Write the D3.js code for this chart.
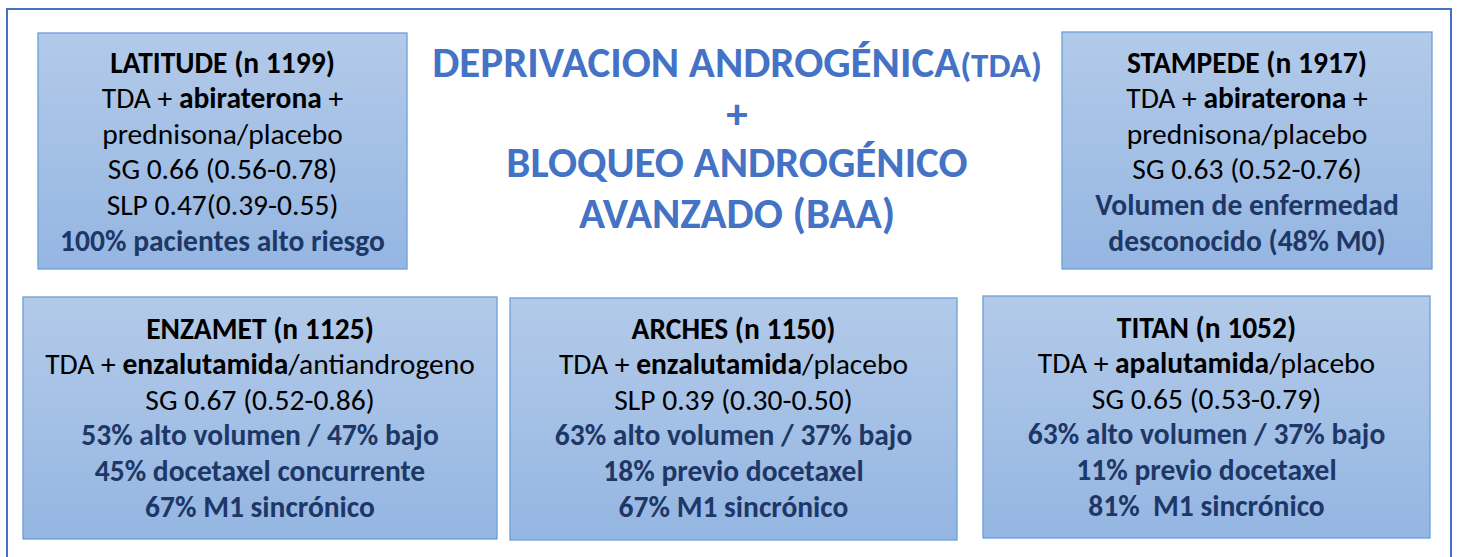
<!DOCTYPE html>
<html><head><meta charset="utf-8">
<script src="https://cdn.jsdelivr.net/npm/d3@7"></script>
<style>html,body{margin:0;padding:0;background:#fff;}svg{display:block;}</style>
</head><body>
<svg id="c" width="1459" height="557"></svg>
<script>
// ---- data ----
const titleLines = [
  [{t:"DEPRIVACION ANDROGÉNICA"},{t:"(TDA)", small:true}],
  [{t:"+"}],
  [{t:"BLOQUEO ANDROGÉNICO"}],
  [{t:"AVANZADO (BAA)"}]
];
const studies = ["LATITUDE","STAMPEDE","ENZAMET","ARCHES","TITAN"];
const sampleSizes = ["1199","1917","1125","1150","1052"];
const drugs = ["abiraterona","abiraterona","enzalutamida","enzalutamida","apalutamida"];
const comparators = [" +|prednisona/placebo"," +|prednisona/placebo","/antiandrogeno","/placebo","/placebo"];
const outcomes = [
  ["SG 0.66 (0.56-0.78)","SLP 0.47(0.39-0.55)"],
  ["SG 0.63 (0.52-0.76)"],
  ["SG 0.67 (0.52-0.86)"],
  ["SLP 0.39 (0.30-0.50)"],
  ["SG 0.65 (0.53-0.79)"]
];
const features = [
  ["100% pacientes alto riesgo"],
  ["Volumen de enfermedad","desconocido (48% M0)"],
  ["53% alto volumen / 47% bajo","45% docetaxel concurrente","67% M1 sincrónico"],
  ["63% alto volumen / 37% bajo","18% previo docetaxel","67% M1 sincrónico"],
  ["63% alto volumen / 37% bajo","11% previo docetaxel","81%\u00a0 M1 sincrónico"]
];

// ---- layout ----
const boxes = [
  {x:38,  y:33,  w:369, h:236, top:62},
  {x:1062,y:32,  w:370, h:237, top:62},
  {x:23,  y:297, w:474, h:242, top:328},
  {x:510, y:298, w:447, h:242, top:328},
  {x:983, y:296, w:447, h:242, top:327}
];
const lineH = 35.6;
const FONT = "Carlito, Lato, 'Open Sans', sans-serif";
const FS = 29.5;
const navy = "#1e3766", blue = "#4472c4";

const svg = d3.select("#c");
const defs = svg.append("defs");
const g = defs.append("linearGradient").attr("id","bg").attr("x1",0).attr("y1",0).attr("x2",0).attr("y2",1);
g.append("stop").attr("offset","0%").attr("stop-color","#b3cae9");
g.append("stop").attr("offset","100%").attr("stop-color","#94b6e2");

svg.append("rect").attr("x",7).attr("y",9).attr("width",1444).attr("height",570)
  .attr("fill","none").attr("stroke",blue).attr("stroke-width",2);

const boxLines = studies.map((s,i)=>{
  const lines = [];
  lines.push([{t:`${s} (n ${sampleSizes[i]})`, b:true, c:"#000"}]);
  const comp = comparators[i].split("|");
  lines.push([{t:"TDA + ",c:"#000"},{t:drugs[i],b:true,c:"#000"},{t:comp[0],c:"#000"}]);
  if (comp.length === 2) lines.push([{t:comp[1],c:"#000"}]);
  outcomes[i].forEach(o=>lines.push([{t:o,c:"#000"}]));
  features[i].forEach(f=>lines.push([{t:f,b:true,c:navy}]));
  return lines;
});

const bx = svg.selectAll("g.box").data(boxes).join("g").attr("class","box");
bx.append("rect").attr("x",d=>d.x).attr("y",d=>d.y).attr("width",d=>d.w).attr("height",d=>d.h)
  .attr("fill","url(#bg)").attr("stroke","#6c9edb").attr("stroke-width",1.3);
bx.each(function(d,i){
  const sel = d3.select(this);
  boxLines[i].forEach((segs,k)=>{
    const t = sel.append("text").attr("x",d.x+d.w/2).attr("y",d.top+k*lineH)
      .attr("dy","0.36em").attr("text-anchor","middle")
      .style("font-family",FONT).style("font-size",FS+"px");
    segs.forEach(s=>t.append("tspan").text(s.t).attr("fill",s.c)
      .style("font-weight",s.b?700:400).style("white-space","pre").attr("xml:space","preserve"));
  });
});

// Title
const titleY = [71,122,171,222];
titleLines.forEach((segs,k)=>{
  const t = svg.append("text").attr("x",737).attr("y",titleY[k]).attr("dy","0.36em")
    .attr("text-anchor","middle").style("font-family",FONT).style("font-weight",700).attr("fill",blue);
  segs.forEach(s=>t.append("tspan").text(s.t).style("font-size",(s.small?35:43)+"px"));
});
</script>
</body></html>
